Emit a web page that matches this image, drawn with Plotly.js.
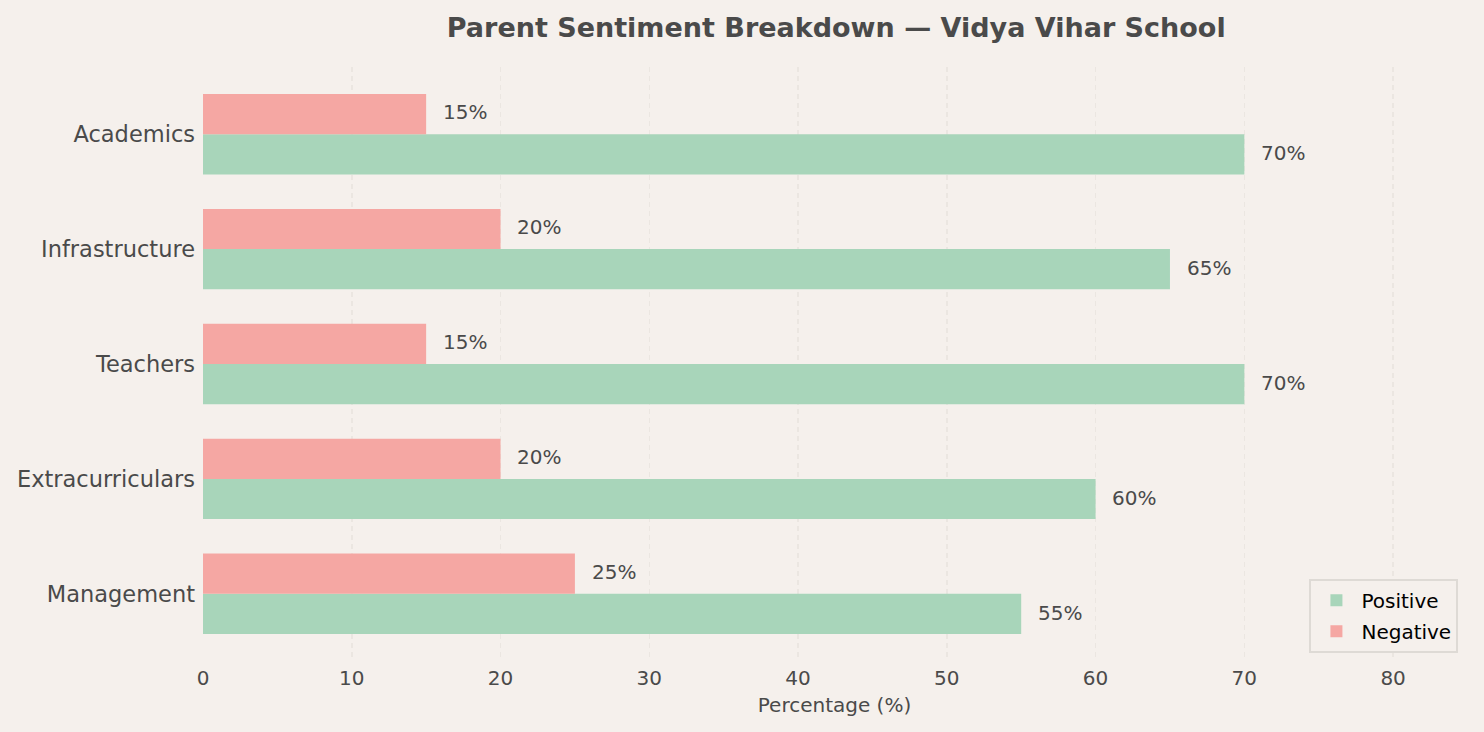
<!DOCTYPE html>
<html><head><meta charset="utf-8">
<script src="https://cdn.plot.ly/plotly-3.0.1.min.js"></script>
<style>html,body{margin:0;padding:0;background:#f5f0ec;}#chart{width:1484px;height:732px;}</style>
</head><body><div id="chart"></div>
<script>
const categories = ["Academics", "Infrastructure", "Teachers", "Extracurriculars", "Management"];
const positive = [70, 65, 70, 60, 55];
const negative = [15, 20, 15, 20, 25];
const xTicks = [0, 10, 20, 30, 40, 50, 60, 70, 80];

const n = categories.length;
const yPos = categories.map((c, i) => n - 1 - i);

const font = "DejaVu Sans, sans-serif";
const traces = [
  {type: 'bar', orientation: 'h', name: 'Positive', legendgroup: 'p', x: positive, y: yPos,
   width: 0.35, offset: -0.35, marker: {color: '#a8d5ba'}, hoverinfo: 'x'},
  {type: 'bar', orientation: 'h', name: 'Negative', legendgroup: 'n', x: negative, y: yPos,
   width: 0.35, offset: 0, marker: {color: '#f5a7a3'}, hoverinfo: 'x'}
];

const annotations = [];
positive.forEach((v, i) => annotations.push({x: v + 1, y: yPos[i] - 0.165, text: v + '%', showarrow: false,
  xanchor: 'left', yanchor: 'middle', font: {family: font, size: 20, color: '#4a4a4a'}}));
negative.forEach((v, i) => annotations.push({x: v + 1, y: yPos[i] + 0.19, text: v + '%', showarrow: false,
  xanchor: 'left', yanchor: 'middle', font: {family: font, size: 20, color: '#4a4a4a'}}));

const layout = {
  width: 1484, height: 732,
  paper_bgcolor: '#f5f0ec', plot_bgcolor: '#f5f0ec',
  margin: {l: 203, r: 18, t: 67, b: 71},
  barmode: 'overlay',
  title: {text: '<b>Parent Sentiment Breakdown — Vidya Vihar School</b>', x: 0.5635, xanchor: 'center', y: 0.963, yanchor: 'middle',
    font: {family: font, size: 27, color: '#4a4a4a'}},
  xaxis: {range: [0, 84.9], tickvals: xTicks, ticktext: xTicks.map(String), showline: false, zeroline: false,
    showgrid: true, gridcolor: '#ebe6e1', griddash: '5px,4px', gridwidth: 1.5, ticks: '', ticklabelstandoff: 3,
    tickfont: {family: font, size: 20, color: '#4a4a4a'},
    title: {text: 'Percentage (%)', font: {family: font, size: 20, color: '#4a4a4a'}, standoff: 8}},
  yaxis: {range: [-0.585, 4.585], tickvals: yPos, ticktext: categories, showline: false, zeroline: false,
    showgrid: false, ticks: '', ticklabelstandoff: 7,
    tickfont: {family: font, size: 22.5, color: '#4a4a4a'}},
  legend: {x: 0.994, y: 0.014, xanchor: 'right', yanchor: 'bottom', bgcolor: '#f5f0ec', bordercolor: '#dedad5', borderwidth: 2,
    font: {family: font, size: 20, color: '#000000'}, traceorder: 'grouped', tracegroupgap: 2, itemwidth: 40},
  annotations: annotations,
  showlegend: true
};
Plotly.newPlot('chart', traces, layout, {displayModeBar: false, staticPlot: true});
</script></body></html>
